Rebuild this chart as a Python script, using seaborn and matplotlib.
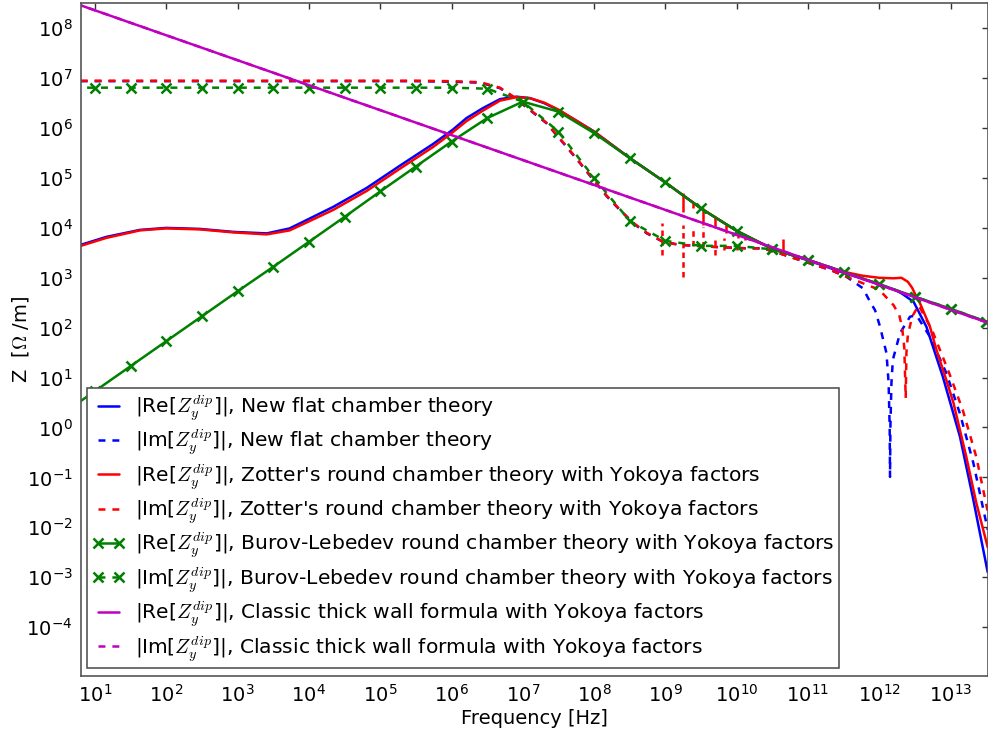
import numpy as np
import pandas as pd
import matplotlib
matplotlib.use("Agg")
import matplotlib.pyplot as plt
import seaborn as sns
from matplotlib.ticker import FixedLocator, LogFormatterSciNotation, NullLocator

# ---------------- data (log10 readings from the picture) ----------------
# New flat chamber theory
flat_re_flog = [0.80, 1.16, 1.63, 2.0, 2.47, 2.94, 3.41, 3.73, 4.0, 4.34, 4.81, 5.28, 5.74, 6.02,
                6.21, 6.44, 6.68, 6.91, 7.1, 7.3, 7.5, 7.75, 8.0, 8.5, 9.0, 9.5, 10.0, 10.5, 11.0,
                11.5, 11.77, 12.01, 12.2, 12.31, 12.48, 12.66, 12.89, 13.13, 13.31, 13.52]
flat_re_zlog = [3.66, 3.82, 3.96, 4.00, 3.98, 3.92, 3.89, 3.99, 4.18, 4.42, 4.80, 5.25, 5.68, 5.97,
                6.20, 6.40, 6.58, 6.63, 6.60, 6.50, 6.36, 6.15, 5.93, 5.40, 4.91, 4.39, 3.94, 3.58, 3.35,
                3.10, 2.98, 2.86, 2.77, 2.69, 2.52, 2.02, 1.02, -0.18, -1.39, -2.90]
flat_im_flog = [0.80, 2.0, 4.0, 5.5, 6.0, 6.40, 6.68, 6.86, 7.1, 7.33, 7.61, 7.8, 7.99, 8.18, 8.36,
                8.55, 8.74, 8.97, 9.2, 9.67, 10.14, 10.37, 10.6, 10.96, 11.31, 11.54, 11.77, 11.87,
                11.94, 12.01, 12.1, 12.13, 12.145, 12.15, 12.155, 12.17, 12.19, 12.29, 12.43, 12.52,
                12.71, 12.94, 13.13, 13.32, 13.52]
flat_im_zlog = [6.94, 6.94, 6.94, 6.94, 6.93, 6.91, 6.80, 6.63, 6.36, 6.10, 5.63, 5.30, 4.96, 4.63, 4.36,
                4.09, 3.89, 3.72, 3.66, 3.62, 3.59, 3.59, 3.49, 3.32, 3.16, 3.02, 2.79, 2.52,
                2.35, 2.02, 1.49, 0.90, 0.00, -0.99, 0.00, 0.90, 1.36, 1.89, 2.22, 2.25,
                1.82, 1.09, 0.28, -0.72, -2.05]

# Zotter's round chamber theory with Yokoya factors
zot_re_flog = [0.80, 1.16, 1.63, 2.0, 2.47, 2.94, 3.41, 3.73, 4.0, 4.34, 4.81, 5.28, 5.74, 6.02,
               6.21, 6.44, 6.68, 6.91, 7.1, 7.3, 7.5, 8.0, 8.5, 9.0, 9.5, 10.0, 10.5, 11.0, 11.5,
               11.77, 12.0, 12.2, 12.31, 12.4, 12.46, 12.52, 12.57, 12.71, 12.8, 12.94, 13.04,
               13.22, 13.36, 13.52]
zot_re_zlog = [3.64, 3.80, 3.95, 3.99, 3.97, 3.91, 3.87, 3.95, 4.13, 4.36, 4.74, 5.19, 5.62, 5.92,
               6.14, 6.35, 6.55, 6.62, 6.60, 6.51, 6.37, 5.93, 5.40, 4.91, 4.39, 3.94, 3.58, 3.36, 3.12,
               3.04, 3.00, 2.99, 3.00, 2.92, 2.80, 2.62, 2.49, 2.02, 1.56, 0.95, 0.49,
               -0.59, -1.51, -2.40]
zot_im_flog = [0.80, 2.0, 4.0, 5.5, 6.0, 6.40, 6.68, 6.86, 7.1, 7.33, 7.61, 7.8, 7.99, 8.18, 8.36,
               8.55, 8.74, 8.97, 9.2, 9.67, 10.14, 10.37, 10.6, 10.96, 11.31, 11.54, 11.77, 12.0,
               12.2, 12.28, 12.32, 12.35, 12.37, 12.38, 12.40, 12.46, 12.55, 12.74, 12.98, 13.17,
               13.36, 13.52]
zot_im_zlog = [6.95, 6.95, 6.95, 6.95, 6.94, 6.92, 6.81, 6.64, 6.37, 6.11, 5.64, 5.31, 4.97, 4.64, 4.37,
               4.10, 3.90, 3.72, 3.66, 3.62, 3.59, 3.59, 3.49, 3.32, 3.16, 3.02, 2.89, 2.76,
               2.45, 2.25, 2.00, 1.60, 0.59, 1.50, 1.85, 2.22, 2.45, 1.95, 1.09, 0.35,
               -0.59, -1.68]
# numerical spikes of the Zotter curves: frequency, top, bottom (log10)
zot_re_spike_flog = [9.25, 9.39, 9.53, 9.70, 9.85, 10.02, 10.12, 10.65]
zot_re_spike_top = [4.70, 4.50, 4.40, 4.22, 4.06, 3.92, 3.86, 3.78]
zot_re_spike_bot = [4.32, 4.39, 4.06, 4.00, 3.90, 3.80, 3.76, 3.46]
zot_im_spike_flog = [8.95, 9.25, 9.39, 9.53, 9.70, 9.82, 10.0]
zot_im_spike_top = [4.10, 4.06, 3.97, 4.02, 3.76, 3.80, 3.70]
zot_im_spike_bot = [3.46, 3.02, 3.64, 3.62, 3.46, 3.55, 3.55]

# Burov-Lebedev round chamber theory with Yokoya factors (half-decade samples)
bl_flog = [0.5, 1.0, 1.5, 2.0, 2.5, 3.0, 3.5, 4.0, 4.5, 5.0, 5.5, 6.0, 6.5, 7.0, 7.5, 8.0, 8.5,
           9.0, 9.5, 10.0, 10.5, 11.0, 11.5, 12.0, 12.5, 13.0, 13.5]
bl_re_zlog = [0.23, 0.73, 1.23, 1.73, 2.23, 2.73, 3.22, 3.72, 4.22, 4.73, 5.23, 5.73, 6.20, 6.53,
              6.33, 5.90, 5.40, 4.91, 4.39, 3.94, 3.58, 3.36, 3.12, 2.87, 2.62, 2.38, 2.12]
bl_im_zlog = [6.81, 6.81, 6.81, 6.81, 6.81, 6.81, 6.81, 6.81, 6.81, 6.81, 6.81, 6.81, 6.79, 6.53,
              5.93, 5.00, 4.14, 3.74, 3.64, 3.64, 3.57, 3.36, 3.12, 2.87, 2.62, 2.38, 2.12]

# Classic thick wall formula with Yokoya factors
tw_flog = [0.5, 2.0, 4.0, 6.0, 8.0, 10.0, 12.0, 13.52]
tw_re_zlog = [8.61, 7.86, 6.86, 5.86, 4.86, 3.86, 2.86, 2.10]
tw_im_zlog = [8.61, 7.86, 6.86, 5.86, 4.86, 3.86, 2.86, 2.10]

LAB = r"|%s[$Z_y^{dip}$]|, %s"
labels = [LAB % ("Re", "New flat chamber theory"),
          LAB % ("Im", "New flat chamber theory"),
          LAB % ("Re", "Zotter's round chamber theory with Yokoya factors"),
          LAB % ("Im", "Zotter's round chamber theory with Yokoya factors"),
          LAB % ("Re", "Burov-Lebedev round chamber theory with Yokoya factors"),
          LAB % ("Im", "Burov-Lebedev round chamber theory with Yokoya factors"),
          LAB % ("Re", "Classic thick wall formula with Yokoya factors"),
          LAB % ("Im", "Classic thick wall formula with Yokoya factors")]

# ---------------- style ----------------
sns.set_theme(style="white")
plt.rcParams["font.family"] = ["DejaVu Sans"]
plt.rcParams["text.color"] = "black"
plt.rcParams["axes.labelcolor"] = "black"
plt.rcParams["mathtext.fontset"] = "cm"
plt.rcParams["lines.scale_dashes"] = False

fig = plt.figure(figsize=(9.88, 7.36), dpi=100)
ax = fig.add_axes([81 / 988, 1 - 676 / 736, 907 / 988, 673.3 / 736])
ax.set_xscale("log")
ax.set_yscale("log")

BLUE, RED, GREEN, MAG = "#0000ff", "#ff0000", "#008000", "#bf00bf"
DASH = (0, (5, 5))
LW = 1.8


def tolin(a):
    return np.power(10.0, np.asarray(a, dtype=float))


def draw(flog, zlog, color, ls, label, marker=None):
    df = pd.DataFrame({"f": tolin(flog), "Z": tolin(zlog)})
    kw = dict(color=color, linestyle=ls, linewidth=LW, label=label)
    if marker:
        kw.update(marker=marker, markersize=7, markeredgewidth=1.8,
                  markeredgecolor=color, markerfacecolor=color)
    sns.lineplot(data=df, x="f", y="Z", ax=ax, estimator=None, errorbar=None,
                 sort=False, legend=False, **kw)


draw(flat_re_flog, flat_re_zlog, BLUE, "-", labels[0])
draw(flat_im_flog, flat_im_zlog, BLUE, DASH, labels[1])
draw(zot_re_flog, zot_re_zlog, RED, "-", labels[2])
ax.vlines(tolin(zot_re_spike_flog), tolin(zot_re_spike_bot), tolin(zot_re_spike_top),
          colors=RED, linewidth=LW)
draw(zot_im_flog, zot_im_zlog, RED, DASH, labels[3])
ax.vlines(tolin(zot_im_spike_flog), tolin(zot_im_spike_bot), tolin(zot_im_spike_top),
          colors=RED, linewidth=LW, linestyles=[(0, (4, 3))])
draw(bl_flog, bl_re_zlog, GREEN, "-", labels[4], marker="x")
draw(bl_flog, bl_im_zlog, GREEN, DASH, labels[5], marker="x")
draw(tw_flog, tw_re_zlog, MAG, "-", labels[6])
draw(tw_flog, tw_im_zlog, MAG, DASH, labels[7])

# ---------------- axes ----------------
ax.set_xlim(10 ** 0.804, 10 ** 13.524)
ax.set_ylim(10 ** -4.98, 10 ** 8.513)
ax.xaxis.set_major_locator(FixedLocator(tolin(range(1, 14))))
ax.yaxis.set_major_locator(FixedLocator(tolin(range(-4, 9))))
ax.xaxis.set_major_formatter(LogFormatterSciNotation())
ax.yaxis.set_major_formatter(LogFormatterSciNotation())
ax.xaxis.set_minor_locator(NullLocator())
ax.yaxis.set_minor_locator(NullLocator())
ax.tick_params(which="major", direction="in", length=4, width=1, colors="#333333",
               labelcolor="black", labelsize=14, top=True, right=True, pad=6)
for s in ax.spines.values():
    s.set_color("#555555")
    s.set_linewidth(1.2)
ax.grid(False)
ax.set_xlabel("Frequency [Hz]", fontsize=14, color="black", labelpad=2)
ax.set_ylabel(r"Z  [$\Omega$ /m]", fontsize=14, color="black", labelpad=-3)

leg = ax.legend(loc="lower left", bbox_to_anchor=(6.3 / 907, 8 / 673.3), borderaxespad=0,
                fontsize=14.6, frameon=True, fancybox=False, framealpha=1, edgecolor="#555555",
                handlelength=1.65, handletextpad=0.5, numpoints=2, labelspacing=0.22,
                borderpad=0.22, labelcolor="black")
leg.get_frame().set_linewidth(1.2)

fig.savefig("out.png", dpi=100)
